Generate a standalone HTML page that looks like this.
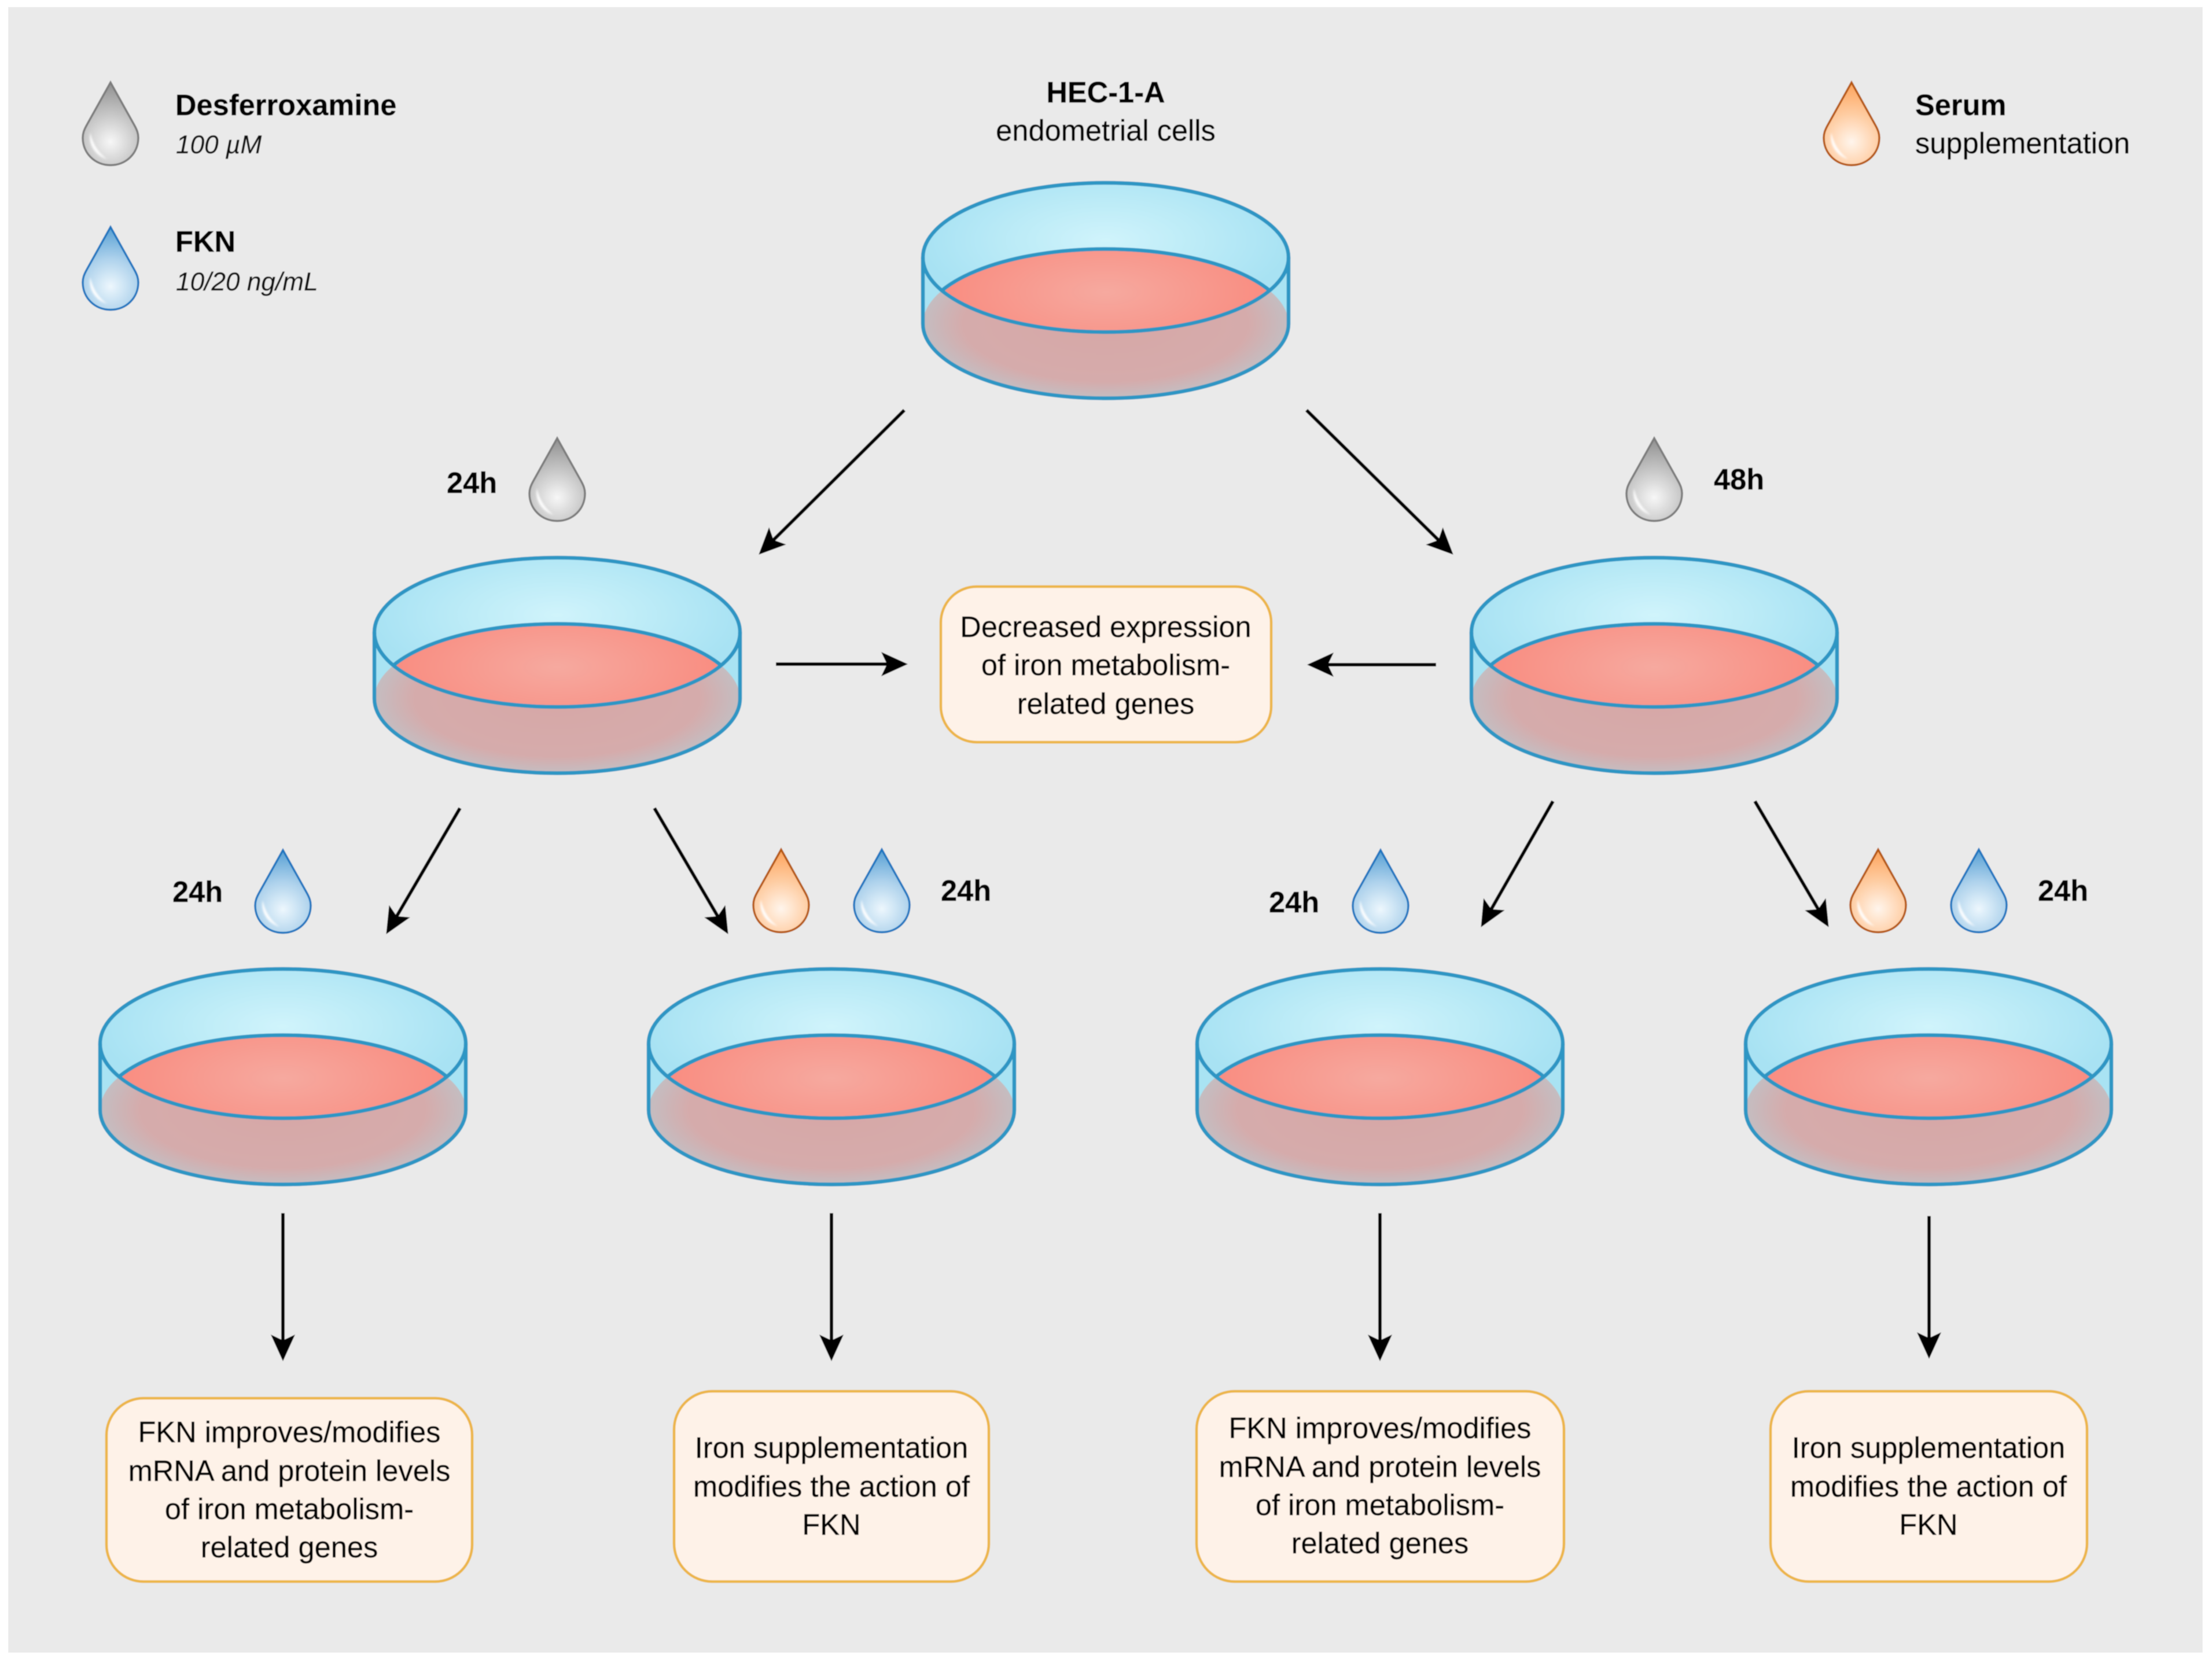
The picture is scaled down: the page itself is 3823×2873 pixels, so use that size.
<!DOCTYPE html>
<html>
<head>
<meta charset="utf-8">
<style>
html,body{margin:0;padding:0;background:#fff}
svg{display:block}
text{font-family:"Liberation Sans",sans-serif;font-size:50.6px;fill:#050505;stroke:#050505;stroke-width:.5px}
.b{font-weight:bold}
.i{font-style:italic;font-size:44.2px;fill:#111;stroke:#111;stroke-width:.3px}
.c{text-anchor:middle}
.box{fill:#fef2e8;stroke:#ecb54a;stroke-width:4.5}
.ar{stroke:#000;stroke-width:6;fill:none;marker-end:url(#ah)}
</style>
</head>
<body>
<svg xmlns="http://www.w3.org/2000/svg" width="3823" height="2873" viewBox="0 0 3823 2873">
<defs>
  <marker id="ah" markerUnits="userSpaceOnUse" markerWidth="70" markerHeight="70" refX="0" refY="0" orient="auto" overflow="visible" viewBox="-35 -35 70 70">
    <path d="M31 0 L-15 -21 L-5 0 L-15 21 Z" fill="#000"/>
  </marker>
  <radialGradient id="gTop" gradientUnits="userSpaceOnUse" cx="0" cy="-30" r="316" gradientTransform="translate(0 -30) scale(1 .42) translate(0 30)">
    <stop offset="0" stop-color="#d0f4fb"/><stop offset="1" stop-color="#a8e2f3"/>
  </radialGradient>
  <radialGradient id="gLens" gradientUnits="userSpaceOnUse" cx="0" cy="60" r="290" gradientTransform="translate(0 60) scale(1 .4) translate(0 -60)">
    <stop offset="0" stop-color="#f6a99f"/><stop offset="1" stop-color="#f98c80"/>
  </radialGradient>
  <radialGradient id="gBot" gradientUnits="userSpaceOnUse" cx="0" cy="114" r="316" gradientTransform="translate(0 114) scale(1 .41) translate(0 -114)">
    <stop offset="0" stop-color="#d7a7a6"/><stop offset=".78" stop-color="#d5abab"/><stop offset="1" stop-color="#c4bdc1"/>
  </radialGradient>
  <filter id="soft2" x="-40%" y="-40%" width="180%" height="180%"><feGaussianBlur stdDeviation="1.6"/></filter>
  <filter id="page" x="0" y="0" width="100%" height="100%"><feGaussianBlur stdDeviation="0.9"/></filter>
  <clipPath id="cBot"><ellipse cx="0" cy="114.5" rx="316" ry="129"/></clipPath>
  <clipPath id="cTop"><ellipse cx="0" cy="0" rx="316" ry="129"/></clipPath>

  <g id="dish">
    <path d="M-316 0 V114.5 A316 129 0 0 0 316 114.5 V0 A316 129 0 0 0 -316 0 Z" fill="#a9e3f3"/>
    <g clip-path="url(#cBot)"><ellipse cx="0" cy="114.5" rx="316" ry="129" fill="url(#gBot)"/></g>
    <ellipse cx="0" cy="0" rx="316" ry="129" fill="url(#gTop)"/>
    <g clip-path="url(#cTop)">
      <ellipse cx="0" cy="114.5" rx="316" ry="129" fill="url(#gLens)"/>
      <ellipse cx="0" cy="114.5" rx="316" ry="129" fill="none" stroke="#2f96c4" stroke-width="6.5"/>
    </g>
    <path d="M-316 0 V114.5 A316 129 0 0 0 316 114.5 V0" fill="none" stroke="#2f96c4" stroke-width="6.5"/>
    <ellipse cx="0" cy="0" rx="316" ry="129" fill="none" stroke="#2f96c4" stroke-width="6.5"/>
  </g>

  <path id="dp" d="M0 1.5 L41 75 C46 84 48 90 48 97 C48 124 27 144.5 0 144.5 C-27 144.5 -48 124 -48 97 C-48 90 -46 84 -41 75 Z"/>
  <path id="hl" d="M-35 88 C-39 109 -26 128 -6 134 C-20 124 -31 108 -35 88 Z" fill="#fff" opacity=".95" filter="url(#soft2)"/>

  <radialGradient id="gGrey" gradientUnits="userSpaceOnUse" cx="0" cy="104" r="106">
    <stop offset="0" stop-color="#f7f7f7"/><stop offset=".45" stop-color="#c6c6c6"/><stop offset="1" stop-color="#8b8b8b"/>
  </radialGradient>
  <radialGradient id="gBlue" gradientUnits="userSpaceOnUse" cx="0" cy="104" r="106">
    <stop offset="0" stop-color="#edf7fd"/><stop offset=".45" stop-color="#aed2ec"/><stop offset="1" stop-color="#4f9bd2"/>
  </radialGradient>
  <radialGradient id="gOrange" gradientUnits="userSpaceOnUse" cx="0" cy="104" r="106">
    <stop offset="0" stop-color="#fff5ec"/><stop offset=".45" stop-color="#fecda3"/><stop offset="1" stop-color="#fd9f54"/>
  </radialGradient>

  <g id="dGrey"><use href="#dp" fill="url(#gGrey)" stroke="#7c7c7c" stroke-width="3.5"/><use href="#hl"/></g>
  <g id="dBlue"><use href="#dp" fill="url(#gBlue)" stroke="#1a76bf" stroke-width="3.5"/><use href="#hl"/></g>
  <g id="dOrange"><use href="#dp" fill="url(#gOrange)" stroke="#b5590f" stroke-width="3.5"/><use href="#hl"/></g>
</defs>

<rect width="3823" height="2873" fill="#fff"/>
<g filter="url(#page)">
<rect x="14" y="12" width="3793" height="2845" fill="#eaeaea"/>

<!-- dishes -->
<use href="#dish" transform="translate(1911 445)"/>
<use href="#dish" transform="translate(963 1093)"/>
<use href="#dish" transform="translate(2859 1093)"/>
<use href="#dish" transform="translate(489 1804)"/>
<use href="#dish" transform="translate(1437 1804)"/>
<use href="#dish" transform="translate(2385 1804)"/>
<use href="#dish" transform="translate(3333 1804)"/>

<!-- drops -->
<use href="#dGrey" transform="translate(191 141)"/>
<use href="#dBlue" transform="translate(191 391)"/>
<use href="#dOrange" transform="translate(3200 141)"/>
<use href="#dGrey" transform="translate(963 756)"/>
<use href="#dGrey" transform="translate(2859 756)"/>
<use href="#dBlue" transform="translate(489 1468)"/>
<use href="#dOrange" transform="translate(1350 1467)"/>
<use href="#dBlue" transform="translate(1524 1467)"/>
<use href="#dBlue" transform="translate(2386 1468)"/>
<use href="#dOrange" transform="translate(3246 1467)"/>
<use href="#dBlue" transform="translate(3420 1467)"/>

<!-- arrows -->
<path class="ar" d="M1563 709 L1333.3 936.9"/>
<path class="ar" d="M2258 709 L2489.6 937"/>
<path class="ar" d="M1341 1148 L1538 1148"/>
<path class="ar" d="M2482 1149 L2290 1149"/>
<path class="ar" d="M795 1397 L683.1 1588.1"/>
<path class="ar" d="M1131 1397 L1242.9 1588.1"/>
<path class="ar" d="M2684 1385 L2574.9 1576"/>
<path class="ar" d="M3033 1385 L3144.9 1576"/>
<path class="ar" d="M489 2097 L489 2322"/>
<path class="ar" d="M1437 2097 L1437 2322"/>
<path class="ar" d="M2385 2097 L2385 2322"/>
<path class="ar" d="M3334 2102 L3334 2318"/>

<!-- boxes -->
<rect class="box" x="1626" y="1014" width="571" height="269" rx="62"/>
<rect class="box" x="184" y="2417" width="632" height="317" rx="64"/>
<rect class="box" x="1165" y="2405" width="544" height="329" rx="66"/>
<rect class="box" x="2068" y="2405" width="635" height="329" rx="66"/>
<rect class="box" x="3060" y="2405" width="547" height="329" rx="66"/>

<!-- legend -->
<text class="b" x="303" y="199">Desferroxamine</text>
<text class="i" x="304" y="265">100 µM</text>
<text class="b" x="303" y="435">FKN</text>
<text class="i" x="304" y="502">10/20 ng/mL</text>
<text class="b" x="3310" y="199">Serum</text>
<text x="3310" y="265">supplementation</text>

<text class="b c" x="1911" y="177">HEC-1-A</text>
<text class="c" x="1911" y="243">endometrial cells</text>

<!-- time labels -->
<text class="b" x="772" y="852">24h</text>
<text class="b" x="2962" y="846">48h</text>
<text class="b" x="298" y="1559">24h</text>
<text class="b" x="1626" y="1557">24h</text>
<text class="b" x="2193" y="1577">24h</text>
<text class="b" x="3522" y="1557">24h</text>

<!-- box text -->
<text class="c" x="1911" y="1101">Decreased expression</text>
<text class="c" x="1911" y="1167">of iron metabolism-</text>
<text class="c" x="1911" y="1234">related genes</text>

<text class="c" x="500" y="2493">FKN improves/modifies</text>
<text class="c" x="500" y="2560">mRNA and protein levels</text>
<text class="c" x="500" y="2626">of iron metabolism-</text>
<text class="c" x="500" y="2692">related genes</text>

<text class="c" x="1437" y="2520">Iron supplementation</text>
<text class="c" x="1437" y="2587">modifies the action of</text>
<text class="c" x="1437" y="2653">FKN</text>

<text class="c" x="2385" y="2486">FKN improves/modifies</text>
<text class="c" x="2385" y="2553">mRNA and protein levels</text>
<text class="c" x="2385" y="2619">of iron metabolism-</text>
<text class="c" x="2385" y="2685">related genes</text>

<text class="c" x="3333" y="2520">Iron supplementation</text>
<text class="c" x="3333" y="2587">modifies the action of</text>
<text class="c" x="3333" y="2653">FKN</text>
</g>
</svg>
</body>
</html>
